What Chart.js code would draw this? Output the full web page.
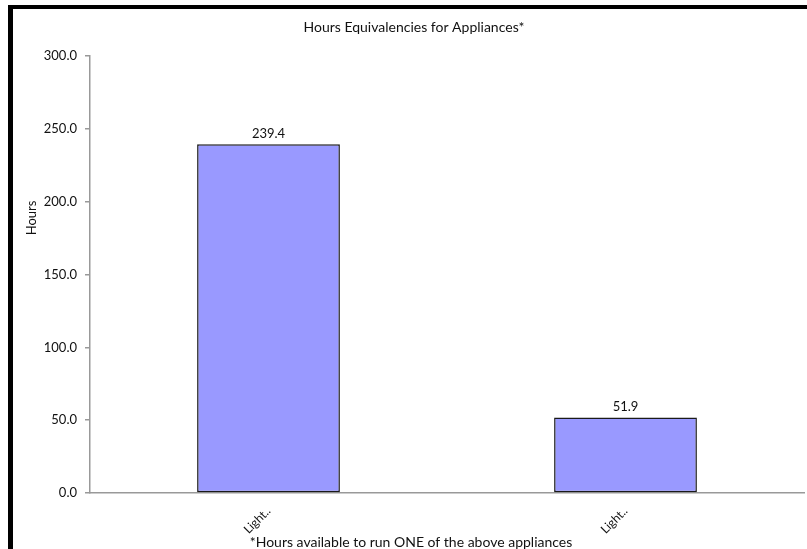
<!DOCTYPE html>
<html>
<head>
<meta charset="utf-8">
<script src="https://cdn.jsdelivr.net/npm/chart.js@4"></script>
<style>
  body { margin: 0; background: #fff; }
  #wrap { position: relative; width: 807px; height: 549px; }
  #frame { position: absolute; left: 8px; top: 5px; right: -10px; bottom: -10px;
           border-left: 5px solid #000; border-top: 4px solid #000; }
  canvas { position: absolute; left: 0; top: 0; }
</style>
</head>
<body>
<div id="wrap">
  <canvas id="chart" width="807" height="549"></canvas>
  <div id="frame"></div>
</div>
<script>
const categories = ["Light..", "Light.."];
const hours = [239.4, 51.9];
const yTicks = [0, 50, 100, 150, 200, 250, 300];

const chartTitle = "Hours Equivalencies for Appliances*";
const footNote = "*Hours available to run ONE of the above appliances";
const yTitle = "Hours";

const FONT = "Lato, 'Open Sans', sans-serif";

// texts around the plot + value labels over the bars
const extras = {
    id: "extras",
    afterDraw(chart) {
        const ctx = chart.ctx;
        ctx.save();
        ctx.fillStyle = "#111";
        ctx.textAlign = "center";
        ctx.textBaseline = "middle";
        ctx.font = "14px " + FONT;
        ctx.fillText(chartTitle, 414, 27);
        ctx.font = "14px " + FONT;
        ctx.fillText(footNote, 411, 542);

        ctx.font = "13px " + FONT;
        ctx.textBaseline = "bottom";
        chart.getDatasetMeta(0).data.forEach((bar, i) => {
            ctx.fillText(hours[i].toFixed(1), bar.x, bar.y - 4);
        });

        ctx.translate(32, 218);
        ctx.rotate(-Math.PI / 2);
        ctx.textBaseline = "middle";
        ctx.font = "13px " + FONT;
        ctx.fillText(yTitle, 0, 0);
        ctx.restore();
    }
};

new Chart(document.getElementById("chart"), {
    type: "bar",
    data: {
        labels: categories,
        datasets: [{
            data: hours,
            backgroundColor: "#9999ff",
            borderColor: "#1a1a1a",
            borderWidth: 1.5,
            borderSkipped: false,
            barPercentage: 0.4,
            categoryPercentage: 1
        }]
    },
    options: {
        responsive: false,
        animation: false,
        layout: { padding: { top: 56, right: 3, left: 0, bottom: 0 } },
        plugins: {
            legend: { display: false },
            tooltip: { enabled: false }
        },
        scales: {
            x: {
                grid: { display: false },
                border: { display: true, color: "#999", width: 1.5 },
                ticks: {
                    color: "#111",
                    font: { family: FONT, size: 12 },
                    minRotation: 45,
                    maxRotation: 45,
                    padding: 3
                },
                afterFit(scale) { scale.height = 56; }
            },
            y: {
                min: 0,
                max: 300,
                afterBuildTicks(scale) { scale.ticks = yTicks.map(v => ({ value: v })); },
                grid: { drawOnChartArea: false, drawTicks: true, tickLength: 5, color: "#999", lineWidth: 1.5 },
                border: { display: true, color: "#999", width: 1.5 },
                ticks: {
                    color: "#111",
                    font: { family: FONT, size: 13 },
                    padding: 8,
                    callback: v => Number(v).toFixed(1)
                },
                afterFit(scale) { scale.width = 90; }
            }
        }
    },
    plugins: [extras]
});
</script>
</body>
</html>
